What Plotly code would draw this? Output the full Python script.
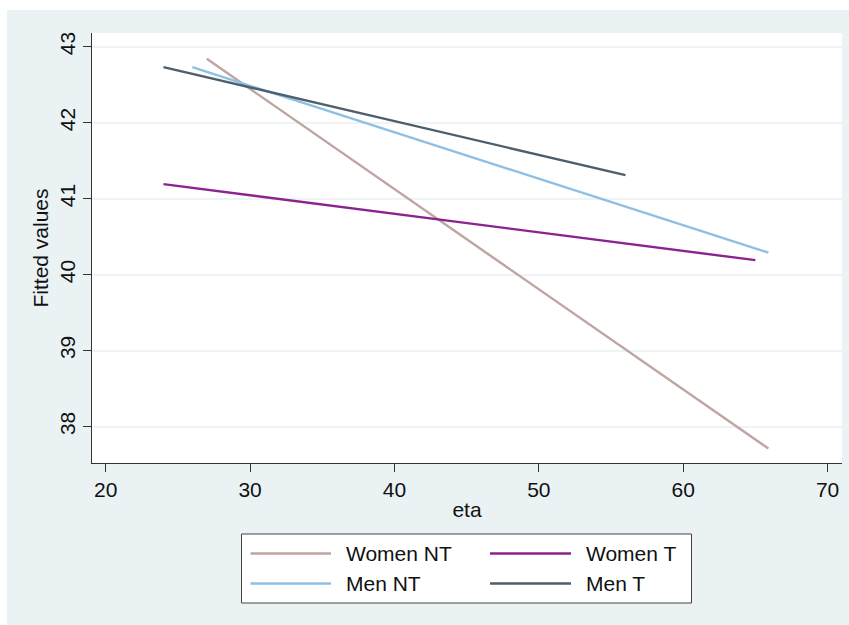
import plotly.graph_objects as go

# ---- data ----
series_names = ["Women NT", "Women T", "Men NT", "Men T"]
series_colors = ["#BFA5A1", "#8C2290", "#8EC0E4", "#4B5F6E"]
women_nt_x = [27.0, 65.9]
women_nt_y = [42.84, 37.71]
women_t_x = [24.0, 65.0]
women_t_y = [41.19, 40.19]
men_nt_x = [26.0, 65.9]
men_nt_y = [42.73, 40.29]
men_t_x = [24.0, 56.0]
men_t_y = [42.73, 41.31]
x_ticks = [20, 30, 40, 50, 60, 70]
y_ticks = [38, 39, 40, 41, 42, 43]

W, H = 849, 625
ML, MR, MT, MB = 92, 7, 33, 162
PW, PH = W - ML - MR, H - MT - MB
FONT = "Liberation Sans, Arial, sans-serif"
BG = "#EAF2F3"


def px(x):
    return (x - ML) / PW


def py(y):
    return (H - MB - y) / PH


xs = [women_nt_x, women_t_x, men_nt_x, men_t_x]
ys = [women_nt_y, women_t_y, men_nt_y, men_t_y]

fig = go.Figure()
for name, color, x, y in zip(series_names, series_colors, xs, ys):
    fig.add_trace(go.Scatter(x=x, y=y, mode="lines", name=name,
                             line=dict(color=color, width=2.4),
                             showlegend=False))

shapes = []
# white strips on top / left of the image
shapes.append(dict(type="rect", xref="paper", yref="paper",
                   x0=px(0), x1=px(W), y0=py(10), y1=py(0),
                   fillcolor="white", line_width=0, layer="below"))
shapes.append(dict(type="rect", xref="paper", yref="paper",
                   x0=px(0), x1=px(7), y0=py(H), y1=py(0),
                   fillcolor="white", line_width=0, layer="below"))
# legend box
shapes.append(dict(type="rect", xref="paper", yref="paper",
                   x0=px(241.5), x1=px(691.5), y0=py(603), y1=py(534),
                   fillcolor="white", line=dict(color="#444444", width=1)))

annotations = []
leg_pos = [(250.5, 331, 344, 553.5), (490, 571, 584, 553.5),
           (250.5, 331, 344, 583.5), (490, 571, 584, 583.5)]
for (lx0, lx1, tx, ly), name, color in zip(leg_pos, series_names, series_colors):
    shapes.append(dict(type="line", xref="paper", yref="paper",
                       x0=px(lx0), x1=px(lx1), y0=py(ly), y1=py(ly),
                       line=dict(color=color, width=2.5)))
    annotations.append(dict(text=name, xref="paper", yref="paper",
                            x=px(tx), y=py(ly), xanchor="left", yanchor="middle",
                            showarrow=False,
                            font=dict(family=FONT, size=21, color="#111111")))

fig.update_layout(
    width=W, height=H,
    margin=dict(l=ML, r=MR, t=MT, b=MB),
    paper_bgcolor=BG, plot_bgcolor="white",
    font=dict(family=FONT, size=21, color="#111111"),
    showlegend=False,
    shapes=shapes, annotations=annotations,
    xaxis=dict(range=[19.05, 71.0], tickvals=x_ticks, showgrid=False,
               zeroline=False, showline=True, linecolor="#333333", linewidth=1,
               ticks="outside", ticklen=8, tickcolor="#333333",
               tickfont=dict(size=21), title=dict(text="eta", font=dict(size=21), standoff=2)),
    yaxis=dict(range=[37.52, 43.18], tickvals=y_ticks, showgrid=True,
               gridcolor="#EEF4F5", gridwidth=1.5, zeroline=False,
               showline=True, linecolor="#333333", linewidth=1,
               ticks="outside", ticklen=8, tickcolor="#333333",
               tickangle=-90, tickfont=dict(size=21),
               title=dict(text="Fitted values", font=dict(size=21), standoff=1)),
)

fig.write_html("out.html")
